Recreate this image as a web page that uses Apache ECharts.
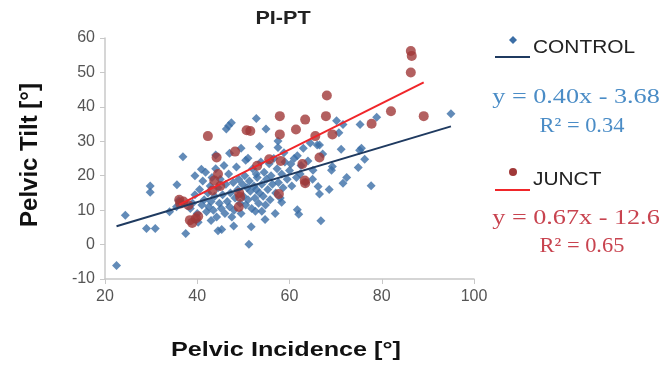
<!DOCTYPE html>
<html>
<head>
<meta charset="utf-8">
<script src="https://cdn.jsdelivr.net/npm/echarts/dist/echarts.min.js"></script>
<style>
  html, body { margin: 0; padding: 0; background: #fff; }
  #chart { width: 671px; height: 365px; }
</style>
</head>
<body>
<div id="chart"></div>
<script>
// axis ticks
const xTicks = [20, 40, 60, 80, 100];
const yTicks = [-10, 0, 10, 20, 30, 40, 50, 60];

// CONTROL group [PI, PT]
const controlPoints = [
  [22.5, -6.1], [24.4, 8.5], [29.0, 4.7], [30.9, 4.7], [29.8, 17.0], [29.8, 15.2],
  [36.9, 25.5], [35.6, 17.4], [37.5, 3.2], [34.0, 9.5], [36.0, 12.8], [35.5, 11.0],
  [46.3, 33.6], [47.4, 35.4], [46.8, 34.5], [52.8, 36.6], [54.9, 33.6], [51.0, 25.1],
  [52.8, 20.5], [40.9, 21.9], [39.5, 20.0], [43.0, 7.0], [45.3, 4.4], [44.5, 4.0],
  [47.9, 5.4], [51.2, 0.1], [51.7, 5.2], [52.6, 9.7], [54.0, 9.7], [54.7, 7.3],
  [56.9, 9.0], [58.3, 12.3], [61.7, 10.1], [62.0, 8.8], [57.5, 30.1], [57.5, 28.2],
  [58.8, 26.7], [61.7, 25.8], [60.3, 23.4], [62.3, 20.5], [64.0, 24.3], [65.1, 21.6],
  [66.0, 28.9], [66.5, 28.9], [67.2, 26.3], [66.2, 16.9], [66.5, 14.7], [66.8, 6.9],
  [68.6, 16.0], [69.1, 21.6], [69.3, 22.7], [70.2, 36.0], [71.6, 34.9], [70.7, 32.5],
  [71.2, 27.7], [71.6, 17.8], [72.4, 19.5], [74.9, 22.4], [75.6, 28.0], [75.2, 27.4],
  [75.3, 34.9], [76.3, 24.8], [77.7, 17.1], [78.9, 37.0], [95.0, 38.0],
  [38.5, 10.5], [39.0, 12.0], [39.5, 14.5], [40.0, 9.0], [40.2, 6.5], [40.5, 16.0],
  [41.0, 11.5], [41.2, 18.5], [41.5, 13.0], [41.8, 21.0], [42.0, 9.5], [42.3, 15.0],
  [42.5, 11.0], [42.8, 17.0], [43.0, 12.5], [43.2, 19.5], [43.5, 10.0], [43.8, 14.0],
  [44.0, 22.0], [44.2, 8.0], [44.5, 16.5], [44.8, 12.0], [45.0, 19.0], [45.2, 10.5],
  [45.5, 14.5], [45.8, 23.0], [46.0, 9.0], [46.2, 17.5], [46.5, 12.5], [46.8, 20.5],
  [47.0, 11.0], [47.2, 15.0], [47.5, 8.0], [47.8, 18.0], [48.0, 10.0], [48.2, 13.5],
  [48.5, 22.5], [48.8, 16.0], [49.0, 19.0], [49.3, 12.0], [49.5, 9.0], [49.8, 17.5],
  [50.0, 14.0], [50.3, 20.0], [50.5, 11.5], [50.8, 16.5], [51.0, 13.0], [51.3, 18.5],
  [51.5, 15.5], [51.8, 10.5], [52.0, 22.0], [52.3, 17.0], [52.5, 13.5], [52.8, 16.0],
  [53.0, 19.5], [53.3, 12.0], [53.5, 15.0], [53.8, 24.0], [54.0, 17.5], [54.3, 14.0],
  [54.5, 21.0], [54.8, 11.5], [55.0, 19.0], [55.3, 16.0], [55.6, 23.5], [55.8, 13.0],
  [56.0, 20.0], [56.3, 17.5], [56.6, 25.0], [57.0, 15.0], [57.3, 22.0], [57.6, 18.0],
  [58.0, 13.5], [58.3, 20.5], [58.6, 16.5], [59.0, 24.0], [59.5, 19.0], [60.0, 21.5],
  [60.5, 17.0], [61.0, 25.0], [61.5, 19.5], [62.5, 23.0], [63.0, 28.0], [63.5, 18.0],
  [64.5, 29.5], [65.0, 19.0], [47.0, 26.5], [49.5, 28.0], [50.5, 24.5], [53.5, 28.5],
  [44.0, 26.0]
];

// JUNCT group [PI, PT]
const junctPoints = [
  [36.1, 13.0], [36.3, 11.9], [37.0, 12.5], [38.1, 11.4], [38.4, 7.1], [38.9, 6.3],
  [39.7, 7.6], [40.2, 8.2], [42.3, 31.5], [44.2, 25.3], [44.5, 20.5], [43.7, 18.6],
  [43.3, 15.7], [45.0, 17.0], [48.2, 27.0], [49.1, 15.0], [49.3, 13.8], [49.0, 10.9],
  [50.7, 33.2], [51.5, 33.0], [53.0, 22.9], [55.6, 24.8], [57.9, 37.3], [57.9, 32.0],
  [58.1, 24.3], [57.7, 14.7], [61.4, 33.4], [62.8, 23.4], [63.3, 18.6], [63.4, 17.8],
  [63.4, 36.3], [65.6, 31.5], [66.5, 25.3], [67.9, 37.3], [68.1, 43.3], [69.3, 32.0],
  [77.8, 35.1], [82.0, 38.7], [86.3, 56.2], [86.5, 54.8], [86.3, 50.0], [89.1, 37.3]
];

// linear fits: [slope, intercept, r2]
const controlFit = [0.40, -3.68, 0.34];
const junctFit = [0.67, -12.6, 0.65];

function fitLine(points, fit) {
  const xs = points.map(p => p[0]);
  const lo = Math.min(...xs);
  const hi = Math.max(...xs);
  return [[lo, fit[0] * lo + fit[1]], [hi, fit[0] * hi + fit[1]]];
}

function eqText(fit) {
  const sign = fit[1] < 0 ? ' - ' : ' + ';
  return 'y = ' + fit[0].toFixed(2) + 'x' + sign + Math.abs(fit[1]);
}

function txt(x, y, text, font, fill, align, sx, rot) {
  return {
    type: 'text',
    x: x,
    y: y,
    originX: 0,
    originY: 0,
    scaleX: sx || 1,
    rotation: rot || 0,
    style: {
      text: text,
      font: font,
      fill: fill,
      textAlign: align || 'center',
      textVerticalAlign: 'middle',
      align: align || 'center',
      verticalAlign: 'middle'
    }
  };
}

const chart = echarts.init(document.getElementById('chart'));

const option = {
  animation: false,
  backgroundColor: '#fff',
  grid: { left: 105, top: 38, width: 369, height: 241 },
  xAxis: {
    type: 'value',
    min: xTicks[0],
    max: xTicks[xTicks.length - 1],
    interval: xTicks[1] - xTicks[0],
    splitLine: { show: false },
    axisLine: { onZero: false, lineStyle: { color: '#c8c8c8', width: 1.5 } },
    axisTick: { show: true, length: 5, lineStyle: { color: '#c8c8c8' } },
    axisLabel: { color: '#555', fontSize: 16, fontFamily: 'Liberation Sans, Arial', margin: 10 }
  },
  yAxis: {
    type: 'value',
    min: yTicks[0],
    max: yTicks[yTicks.length - 1],
    interval: yTicks[1] - yTicks[0],
    splitLine: { show: false },
    axisLine: { show: true, onZero: false, lineStyle: { color: '#c8c8c8', width: 1.5 } },
    axisTick: { show: true, length: 5, lineStyle: { color: '#c8c8c8' } },
    axisLabel: { color: '#555', fontSize: 16, fontFamily: 'Liberation Sans, Arial', margin: 10 }
  },
  series: [
    {
      name: 'CONTROL',
      type: 'scatter',
      symbol: 'diamond',
      symbolSize: 9,
      itemStyle: { color: '#3b6ea6' },
      data: controlPoints
    },
    {
      name: 'JUNCT',
      type: 'scatter',
      symbol: 'circle',
      symbolSize: 10,
      itemStyle: { color: '#a03838' },
      data: junctPoints
    },
    {
      type: 'line',
      symbol: 'none',
      z: 5,
      lineStyle: { color: '#1f3a60', width: 2 },
      data: fitLine(controlPoints, controlFit)
    },
    {
      type: 'line',
      symbol: 'none',
      z: 5,
      lineStyle: { color: '#f0262a', width: 2 },
      data: fitLine(junctPoints, junctFit)
    }
  ],
  graphic: [
    txt(283, 19, 'PI-PT', 'bold 18px Liberation Sans, Arial', '#222', 'center', 1.2),
    txt(286, 350, 'Pelvic Incidence [°]', 'bold 21px Liberation Sans, Arial', '#111', 'center', 1.2),
    txt(30, 155, 'Pelvic Tilt [°]', 'bold 24px Liberation Sans, Arial', '#111', 'center', 1, Math.PI / 2),
    // legend
    { type: 'polygon', shape: { points: [[513, 36], [517, 40], [513, 44], [509, 40]] }, style: { fill: '#3b6ea6' } },
    { type: 'line', shape: { x1: 495, y1: 57, x2: 530, y2: 57 }, style: { stroke: '#1f3a60', lineWidth: 2 } },
    txt(533, 48, 'CONTROL', '18px Liberation Sans, Arial', '#222', 'left', 1.16),
    txt(576, 97, eqText(controlFit), '22px Liberation Serif, Times New Roman', '#4a8cc6', 'center', 1.19),
    txt(582, 126, 'R² = ' + controlFit[2].toFixed(2), '22px Liberation Serif, Times New Roman', '#4a8cc6', 'center', 1.02),
    { type: 'circle', shape: { cx: 513, cy: 172, r: 4 }, style: { fill: '#a03838' } },
    { type: 'line', shape: { x1: 495, y1: 190, x2: 530, y2: 190 }, style: { stroke: '#f0262a', lineWidth: 2 } },
    txt(533, 180, 'JUNCT', '18px Liberation Sans, Arial', '#222', 'left', 1.16),
    txt(576, 218, eqText(junctFit), '22px Liberation Serif, Times New Roman', '#c8434f', 'center', 1.19),
    txt(582, 246, 'R² = ' + junctFit[2].toFixed(2), '22px Liberation Serif, Times New Roman', '#c8434f', 'center', 1.02)
  ]
};

chart.setOption(option);
</script>
</body>
</html>
